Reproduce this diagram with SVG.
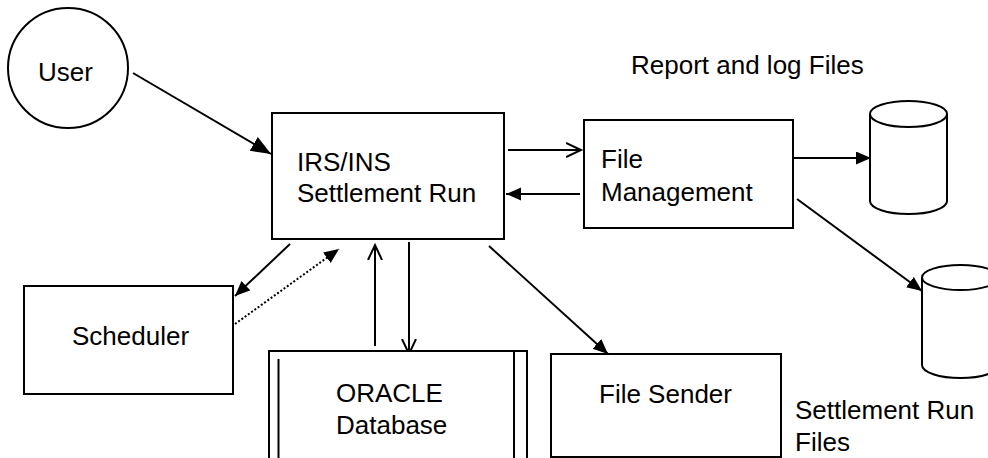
<svg xmlns="http://www.w3.org/2000/svg" width="988" height="458" viewBox="0 0 988 458">
<style>
.shape{fill:#fff;stroke:#000;stroke-width:2}
.ln{fill:none;stroke:#000;stroke-width:2}
.t{font-family:"Liberation Sans",Arial,sans-serif;font-size:26px;fill:#000}
</style>
<defs>
<marker id="big" markerUnits="userSpaceOnUse" markerWidth="22" markerHeight="18" refX="20" refY="8" orient="auto"><path d="M0,0 L20,8 L0,16 z" fill="#000"/></marker>
<marker id="fill" markerUnits="userSpaceOnUse" markerWidth="16" markerHeight="14" refX="15" refY="6.5" orient="auto"><path d="M0,0 L15,6.5 L0,13 z" fill="#000"/></marker>
<marker id="open" markerUnits="userSpaceOnUse" markerWidth="18" markerHeight="18" refX="15" refY="8" orient="auto"><path d="M0,1 L15,8 L0,15" fill="none" stroke="#000" stroke-width="2"/></marker>
</defs>
<rect width="988" height="458" fill="#fff"/>
<g id="connectors">
<line class="ln" x1="133" y1="73" x2="271" y2="154" marker-end="url(#big)"/>
<line class="ln" x1="508" y1="150" x2="581" y2="150" marker-end="url(#open)"/>
<line class="ln" x1="580" y1="194" x2="506" y2="194" marker-end="url(#fill)"/>
<line class="ln" x1="290" y1="244" x2="235" y2="296" marker-end="url(#fill)"/>
<line class="ln" x1="235" y1="324" x2="339" y2="249" stroke-dasharray="2,2" marker-end="url(#fill)"/>
<line class="ln" x1="375" y1="346" x2="375" y2="245" marker-end="url(#open)"/>
<line class="ln" x1="409" y1="242" x2="409" y2="354" marker-end="url(#open)"/>
<line class="ln" x1="489" y1="246" x2="608" y2="354" marker-end="url(#fill)"/>
<line class="ln" x1="794" y1="158" x2="871" y2="158" marker-end="url(#fill)"/>
<line class="ln" x1="797" y1="199" x2="922" y2="291" marker-end="url(#fill)"/>
</g>
<g id="user">
<circle class="shape" cx="68" cy="68" r="60"/>
<text class="t" x="38" y="81">User</text>
</g>
<g id="irs">
<rect class="shape" x="272" y="113" width="232" height="126"/>
<text class="t" x="297" y="171">IRS/INS</text>
<text class="t" x="297" y="202">Settlement Run</text>
</g>
<g id="filemgmt">
<rect class="shape" x="584" y="120" width="209" height="108"/>
<text class="t" x="601" y="168">File</text>
<text class="t" x="601" y="201">Management</text>
</g>
<g id="scheduler">
<rect class="shape" x="24" y="286" width="209" height="108"/>
<text class="t" x="72" y="345">Scheduler</text>
</g>
<g id="oracle">
<rect class="shape" x="269" y="351" width="258" height="120"/>
<line class="ln" x1="278.5" y1="359" x2="278.5" y2="458"/>
<line class="ln" x1="514" y1="351" x2="514" y2="458"/>
<text class="t" x="336" y="402">ORACLE</text>
<text class="t" x="336" y="434">Database</text>
</g>
<g id="filesender">
<rect class="shape" x="551" y="354" width="230" height="103"/>
<text class="t" x="599" y="403">File Sender</text>
</g>
<g id="reportfiles">
<path class="shape" d="M870,114 L870,201 A38.5,13 0 0 0 947,201 L947,114"/>
<ellipse class="shape" cx="908.5" cy="114" rx="38.5" ry="13"/>
<text class="t" x="631" y="74">Report and log Files</text>
</g>
<g id="settlementfiles">
<path class="shape" d="M922,277 L922,365 A38.5,13 0 0 0 999,365 L999,277"/>
<ellipse class="shape" cx="960.5" cy="277.5" rx="38.5" ry="12.5"/>
<text class="t" x="795" y="419">Settlement Run</text>
<text class="t" x="795" y="451">Files</text>
</g>
</svg>
